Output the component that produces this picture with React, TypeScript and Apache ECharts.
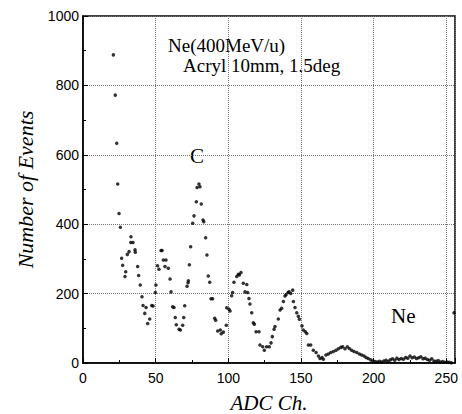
import React, { useEffect, useRef } from "react";
import * as echarts from "echarts";

// ADC channel vs number of events
const adcChannels: number[] = [
  20.9, 22.2, 23.2, 23.9, 24.8, 25.7, 26.6, 27.3, 28.9, 29.4, 30.5, 31.7, 32.9, 33.0, 34.4, 35.8, 36.0,
  37.6, 38.3, 39.4, 40.6, 41.3, 42.5, 43.4, 44.5, 45.9, 47.3, 48.2, 49.8, 50.2, 51.3, 52.3, 53.7, 54.4,
  55.3, 56.4, 57.1, 58.7, 59.9, 60.6, 61.7, 62.6, 63.5, 64.2, 66.1, 67.0, 68.6, 69.3, 70.0, 71.6, 72.3,
  72.5, 73.2, 74.1, 75.5, 76.4, 78.0, 78.5, 79.8, 80.5, 81.4, 82.6, 83.1, 84.4, 85.3, 86.2, 87.2, 88.1,
  89.2, 90.6, 91.3, 92.7, 94.5, 95.1, 96.6, 98.6, 98.9, 100.5, 101.2, 102.3, 103.0, 103.9, 105.8, 106.9,
  107.6, 108.7, 110.3, 111.5, 112.7, 113.3, 114.2, 114.9, 116.1, 117.2, 117.9, 119.1, 121.1, 121.8,
  123.7, 124.8, 126.4, 128.2, 129.4, 130.3, 131.5, 132.1, 134.4, 135.6, 136.7, 137.9, 139.0, 139.7,
  141.1, 141.8, 143.0, 144.3, 144.8, 145.9, 147.1, 148.2, 148.9, 150.7, 151.6, 153.0, 154.0, 155.1,
  156.7, 158.5, 160.4, 162.0, 163.1, 164.5, 165.4, 167.2, 168.8, 170.5, 172.3, 174.1, 175.7, 177.4,
  178.7, 180.3, 181.9, 183.3, 184.9, 186.5, 188.4, 190.2, 191.8, 193.4, 194.8, 196.3, 198.0, 199.5,
  201.0, 202.5, 204.0, 205.5, 207.0, 208.5, 210.0, 211.5, 213.0, 214.5, 216.0, 217.5, 219.0, 220.5,
  222.0, 223.5, 225.0, 226.5, 228.0, 229.5, 231.0, 232.5, 234.0, 235.5, 237.0, 238.5, 240.0, 241.5,
  243.0, 244.5, 246.0, 247.5, 249.0, 250.5, 252.0, 253.5, 255.3,
];
const eventCounts: number[] = [
  888, 772, 633, 516, 431, 391, 302, 282, 249, 263, 313, 321, 347, 364, 347, 326, 319,
  278, 252, 225, 191, 166, 143, 160, 114, 127, 166, 164, 203, 225, 280, 270, 324, 324,
  297, 278, 297, 273, 242, 205, 162, 160, 131, 110, 97, 95, 109, 131, 165, 221, 231,
  237, 283, 335, 403, 424, 465, 506, 516, 508, 458, 412, 407, 361, 311, 251, 233, 185,
  185, 129, 123, 92, 95, 84, 89, 109, 159, 155, 150, 194, 203, 233, 249, 256,
  254, 261, 230, 205, 226, 203, 186, 170, 145, 116, 112, 90, 90, 52,
  47, 37, 47, 47, 58, 76, 97, 105, 127, 153, 158, 177, 193, 197,
  203, 205, 200, 210, 177, 160, 145, 135, 126, 107, 95, 90, 85, 52,
  52, 37, 30, 20, 13, 16, 11, 23, 26, 30, 33, 37, 41, 45,
  47, 41, 47, 42, 37, 33, 30, 26, 23, 20, 16, 13, 9, 6,
  4, 3, 5, 3, 6, 8, 5, 9, 12, 8, 14, 10, 13, 11,
  16, 14, 20, 15, 17, 13, 15, 18, 12, 14, 10, 8, 12, 6,
  5, 7, 3, 4, 2, 3, 2, 1, 145,
];

const xTickLabels: string[] = ["0", "50", "100", "150", "200", "250"];
const yTickLabels: string[] = ["0", "200", "400", "600", "800", "1000"];

const annotations: { text: string; left: number; top: number; size: number }[] = [
  { text: "Ne(400MeV/u)", left: 168, top: 36, size: 19 },
  { text: "Acryl 10mm, 1.5deg", left: 183, top: 56, size: 19 },
  { text: "C", left: 190, top: 145, size: 21 },
  { text: "Ne", left: 391, top: 305, size: 21 },
];

export default function App() {
  const ref = useRef<HTMLDivElement>(null);
  useEffect(() => {
    document.body.style.margin = "0";
    if (!ref.current) return;
    const chart = echarts.init(ref.current, null, { renderer: "svg" });
    const points = adcChannels.map((x, i) => [x, eventCounts[i]]);
    chart.setOption({
      animation: false,
      backgroundColor: "#ffffff",
      grid: {
        left: 83,
        right: 7,
        top: 16,
        bottom: 51,
        show: true,
        borderColor: "#000",
        borderWidth: 1.5,
        containLabel: false,
        outerBoundsMode: "none",
      },
      xAxis: {
        type: "value",
        min: 0,
        max: 256,
        interval: 50,
        name: "ADC Ch.",
        nameLocation: "middle",
        nameGap: 29,
        nameTextStyle: {
          fontFamily: "Liberation Serif",
          fontStyle: "italic",
          fontSize: 21,
          lineHeight: 21,
          color: "#000",
        },
        axisLine: { show: true, lineStyle: { color: "#000", width: 1.5 } },
        axisTick: { show: true, inside: true, length: 5, lineStyle: { color: "#000" } },
        minorTick: { show: true, splitNumber: 2, length: 3, lineStyle: { color: "#000" } },
        axisLabel: {
          color: "#000",
          fontFamily: "Liberation Sans",
          fontSize: 14,
          margin: 8,
          showMaxLabel: false,
          formatter: (v: number) => {
            const s = String(v);
            return xTickLabels.includes(s) ? s : "";
          },
        },
        splitLine: { show: true, lineStyle: { color: "#777", type: "dotted", width: 1 } },
      },
      yAxis: {
        type: "value",
        min: 0,
        max: 1000,
        interval: 200,
        name: "Number of Events",
        nameLocation: "middle",
        nameGap: 43,
        nameTextStyle: {
          fontFamily: "Liberation Serif",
          fontStyle: "italic",
          fontSize: 22,
          color: "#000",
        },
        axisLine: { show: true, lineStyle: { color: "#000", width: 1.5 } },
        axisTick: { show: true, inside: true, length: 5, lineStyle: { color: "#000" } },
        minorTick: { show: true, splitNumber: 2, length: 3, lineStyle: { color: "#000" } },
        axisLabel: {
          color: "#000",
          fontFamily: "Liberation Sans",
          fontSize: 14,
          margin: 4,
          formatter: (v: number) => {
            const s = String(v);
            return yTickLabels.includes(s) ? s : "";
          },
        },
        splitLine: { show: true, lineStyle: { color: "#777", type: "dotted", width: 1 } },
      },
      series: [
        {
          type: "scatter",
          data: points,
          symbol: "circle",
          symbolSize: 3.5,
          itemStyle: { color: "#000" },
          silent: true,
        },
      ],
      graphic: annotations.map((a) => ({
        type: "text",
        left: a.left,
        top: a.top,
        style: {
          text: a.text,
          fontFamily: "Liberation Serif",
          fontSize: a.size,
          fill: "#000",
        },
      })),
    });
    return () => chart.dispose();
  }, []);
  return <div ref={ref} style={{ width: 462, height: 414 }} />;
}
